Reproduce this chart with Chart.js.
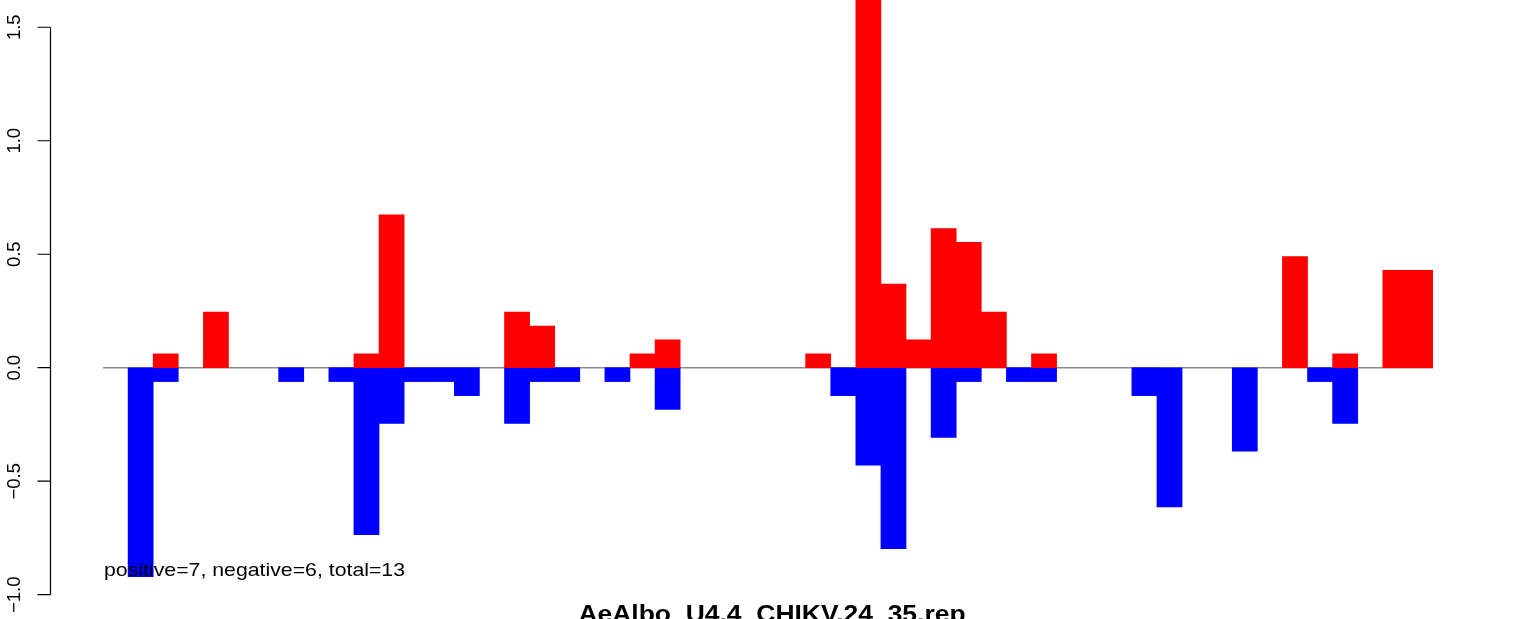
<!DOCTYPE html>
<html><head><meta charset="utf-8">
<script src="https://cdn.jsdelivr.net/npm/chart.js@4"></script>
<style>html,body{margin:0;padding:0;background:#fff;overflow:hidden}</style>
</head><body>
<canvas id="c" width="1536" height="619" style="display:block"></canvas>
<script>
const categories = ["1","2","3","4","5","6","7","8","9","10","11","12","13","14","15","16","17","18","19","20","21","22","23","24","25","26","27","28","29","30","31","32","33","34","35","36","37","38","39","40","41","42","43","44","45","46","47","48","49","50","51","52","53"];
const positiveValues = [null,null,0.061,null,0.245,null,null,null,null,null,0.061,0.674,null,null,null,null,0.245,0.184,null,null,null,0.061,0.123,null,null,null,null,null,0.061,null,1.9,0.368,0.123,0.613,0.552,0.245,null,0.061,null,null,null,null,null,null,null,null,null,0.49,null,0.061,null,0.429,0.429];
const negativeValues = [null,-0.92,-0.061,null,null,null,null,-0.061,null,-0.061,-0.736,-0.245,-0.061,-0.061,-0.123,null,-0.245,-0.061,-0.061,null,-0.061,null,-0.184,null,null,null,null,null,null,-0.123,-0.429,-0.797,null,-0.307,-0.061,null,-0.061,-0.061,null,null,null,-0.123,-0.613,null,null,-0.368,null,null,-0.061,-0.245,null,null,null];
const yTicks = [-1.0,-0.5,0.0,0.5,1.0,1.5];
const yTickLabels = ["\u22121.0","\u22120.5","0.0","0.5","1.0","1.5"];
const summaryText = "positive=7, negative=6, total=13";
const titleText = "AeAlbo_U4.4_CHIKV.24_35.rep";

const decor = {
  id: 'decor',
  beforeDatasetsDraw(chart) {
    const ctx = chart.ctx, ca = chart.chartArea, y = chart.scales.y;
    const py = y.getPixelForValue(0);
    ctx.save();
    ctx.strokeStyle = '#8a8a8a';
    ctx.lineWidth = 1.5;
    ctx.beginPath();
    ctx.moveTo(ca.left, py);
    ctx.lineTo(ca.right, py);
    ctx.stroke();
    ctx.restore();
  },
  afterDatasetsDraw(chart) {
    const ctx = chart.ctx, y = chart.scales.y;
    ctx.save();
    ctx.strokeStyle = '#000';
    ctx.lineWidth = 1.2;
    const ax = 50.5;
    ctx.beginPath();
    ctx.moveTo(ax, y.getPixelForValue(yTicks[0]));
    ctx.lineTo(ax, y.getPixelForValue(yTicks[yTicks.length - 1]));
    yTicks.forEach(v => {
      const p = y.getPixelForValue(v);
      ctx.moveTo(ax, p);
      ctx.lineTo(37.5, p);
    });
    ctx.stroke();
    ctx.fillStyle = '#000';
    ctx.font = '18.5px "Liberation Sans", Arial, sans-serif';
    ctx.textAlign = 'center';
    ctx.textBaseline = 'alphabetic';
    yTicks.forEach((v, i) => {
      const p = y.getPixelForValue(v);
      ctx.save();
      ctx.translate(20, p);
      ctx.rotate(-Math.PI / 2);
      ctx.fillText(yTickLabels[i], 0, 0);
      ctx.restore();
    });
    ctx.save();
    ctx.translate(104, 575.7);
    ctx.scale(1.15, 1);
    ctx.textAlign = 'left';
    ctx.font = '18.5px "Liberation Sans", Arial, sans-serif';
    ctx.fillText(summaryText, 0, 0);
    ctx.restore();
    ctx.save();
    ctx.translate(772, 621.5);
    ctx.scale(1.15, 1);
    ctx.textAlign = 'center';
    ctx.font = 'bold 23px "Liberation Sans", Arial, sans-serif';
    ctx.fillText(titleText, 0, 0);
    ctx.restore();
    ctx.restore();
  }
};

new Chart(document.getElementById('c'), {
  type: 'bar',
  data: {
    labels: categories,
    datasets: [
      { label: 'positive', data: positiveValues, backgroundColor: '#FF0000', borderWidth: 0, barPercentage: 1, categoryPercentage: 1 },
      { label: 'negative', data: negativeValues, backgroundColor: '#0000FF', borderWidth: 0, barPercentage: 1, categoryPercentage: 1 }
    ]
  },
  options: {
    responsive: false,
    devicePixelRatio: 1,
    animation: false,
    layout: { padding: { left: 103, right: 103, top: 0, bottom: 0 } },
    plugins: { legend: { display: false }, tooltip: { enabled: false }, title: { display: false } },
    scales: {
      x: { display: false, stacked: true, offset: true, grid: { display: false } },
      y: { display: false, stacked: true, min: -1.107, max: 1.62, grid: { display: false } }
    }
  },
  plugins: [decor]
});
</script>
</body></html>
